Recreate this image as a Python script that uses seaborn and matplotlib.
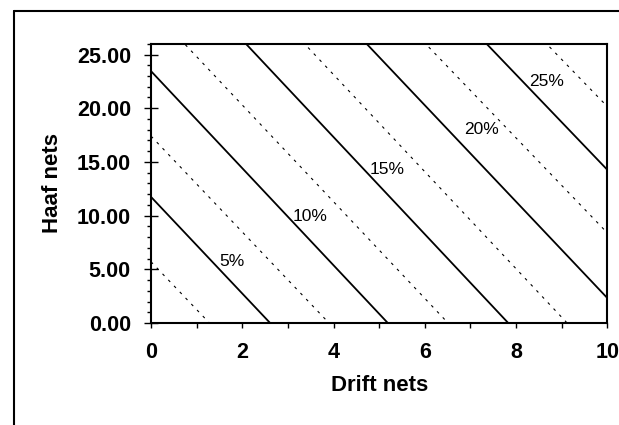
#!/usr/bin/env python3

# libraries
import matplotlib
matplotlib.use('Agg')

import matplotlib.pyplot as plt
import numpy as np
import pandas as pd
import seaborn as sns
from matplotlib.lines import Line2D
from matplotlib.ticker import MultipleLocator, FormatStrFormatter

# ------------------------------------------------------------
#     Data
# ------------------------------------------------------------

# contour levels in percent, solid every 5%, dashed in between
solid_levels = [5, 10, 15, 20, 25]
solid_x_int = [2.61, 5.19, 7.83, 10.52, 13.22]   # drift nets at haaf = 0
solid_y_int = [11.74, 23.45, 35.4, 47.2, 58.6]   # haaf nets at drift = 0

dashed_levels = [2.5, 7.5, 12.5, 17.5, 22.5, 27.5]
dashed_x_int = [1.28, 3.90, 6.51, 9.12, 11.9, 14.6]
dashed_y_int = [5.7, 17.4, 29.3, 41.2, 52.6, 64.0]

# where the level labels sit
label_text = ["5%", "10%", "15%", "20%", "25%"]
label_x = [1.77, 3.49, 5.17, 7.25, 8.68]
label_y = [5.7, 9.9, 14.3, 18.0, 22.5]

x_ticks = [0, 2, 4, 6, 8, 10]
y_ticks = [0, 5, 10, 15, 20, 25]


def segments(levels, x_int, y_int):
    rows = []
    for lv, xi, yi in zip(levels, x_int, y_int):
        rows.append({'level': lv, 'x': 0.0, 'y': yi})
        rows.append({'level': lv, 'x': xi, 'y': 0.0})
    return pd.DataFrame(rows)


# ------------------------------------------------------------
#     Plotting
# ------------------------------------------------------------

sns.set_style("ticks")
plt.rcParams['font.family'] = ['Liberation Sans', 'DejaVu Sans']
plt.rcParams['text.color'] = 'black'
plt.rcParams['axes.labelcolor'] = 'black'

fig = plt.figure(figsize=(6.19, 4.25), dpi=100)
ax = fig.add_axes([0.244, 0.24, 0.737, 0.657])

df_solid = segments(solid_levels, solid_x_int, solid_y_int)
df_dash = segments(dashed_levels, dashed_x_int, dashed_y_int)

sns.lineplot(data=df_solid, x='x', y='y', units='level', estimator=None,
             sort=False, color='black', linewidth=1.3, ax=ax, legend=False)
sns.lineplot(data=df_dash, x='x', y='y', units='level', estimator=None,
             sort=False, color='black', linewidth=0.8, dashes=False, ax=ax,
             legend=False, linestyle=(0, (2.5, 5)))

for t, lx, ly in zip(label_text, label_x, label_y):
    ax.text(lx, ly, t, ha='center', va='center', fontsize=12.5,
            color='black')

ax.set_xlim(0, 10)
ax.set_ylim(0, 26)
ax.set_xticks(x_ticks)
ax.set_yticks(y_ticks)
ax.xaxis.set_minor_locator(MultipleLocator(1))
ax.yaxis.set_minor_locator(MultipleLocator(1))
ax.yaxis.set_major_formatter(FormatStrFormatter('%.2f'))

ax.tick_params(axis='x', which='both', direction='out', length=3.5, width=1,
               pad=10, labelsize=15.5, colors='black')
ax.tick_params(axis='y', which='major', direction='inout', length=10, width=1,
               pad=9.5, labelsize=15.5, colors='black')
ax.tick_params(axis='y', which='minor', direction='out', length=3, width=1,
               colors='black')
for lab in ax.get_xticklabels() + ax.get_yticklabels():
    lab.set_fontweight('bold')

for sp in ax.spines.values():
    sp.set_visible(True)
    sp.set_linewidth(1.5)
    sp.set_color('black')

ax.set_xlabel("Drift nets", fontsize=16, fontweight='bold', labelpad=9)
ax.set_ylabel("Haaf nets", fontsize=16, fontweight='bold', labelpad=10)

# outer frame of the chart (top and left only)
fig.add_artist(Line2D([0.0226, 1.0], [0.973, 0.973], transform=fig.transFigure,
                      color='black', linewidth=1.5))
fig.add_artist(Line2D([0.0226, 0.0226], [0.0, 0.973], transform=fig.transFigure,
                      color='black', linewidth=1.5))

fig.savefig("out.png", dpi=100)
